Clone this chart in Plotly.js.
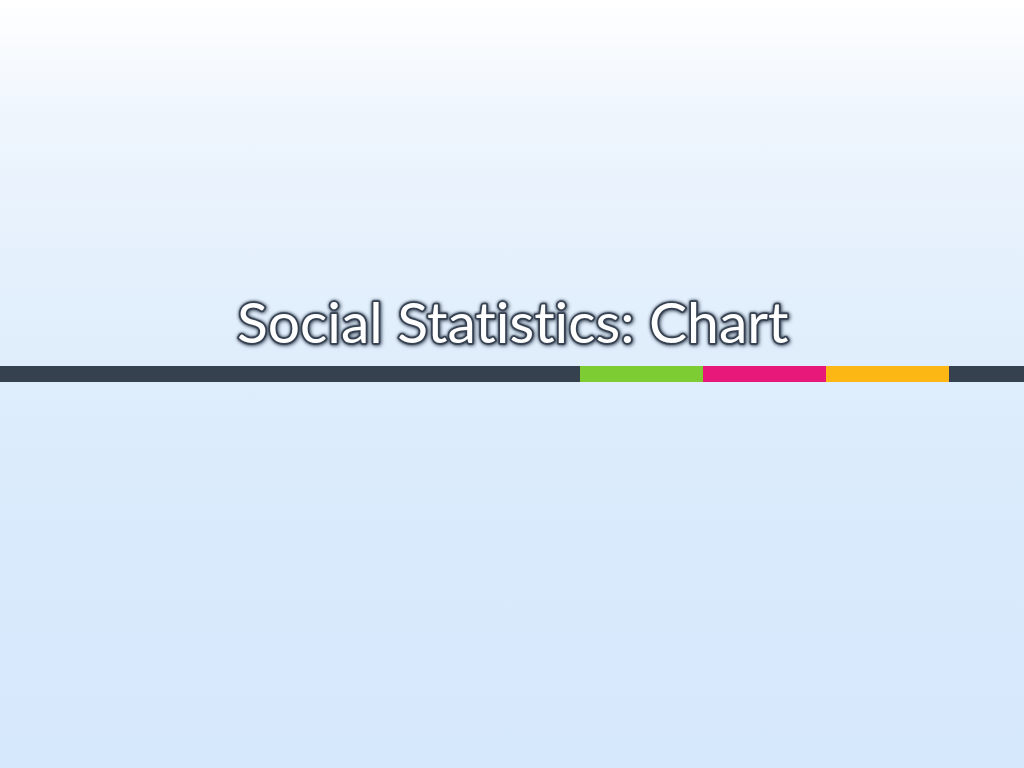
<!DOCTYPE html>
<html>
<head>
<meta charset="utf-8">
<script src="https://cdn.plot.ly/plotly-3.0.1.min.js"></script>
<style>
  html, body { margin: 0; padding: 0; }
  body {
    width: 1024px; height: 768px; overflow: hidden;
    background: linear-gradient(to bottom, #ffffff 0px, #eef5fd 120px, #e2effc 300px, #d9eafc 520px, #d6e8fc 768px);
  }
  #chart { width: 1024px; height: 768px; }
  /* Gill Sans style title: no ligatures, dark outline under white fill */
  .annotation-text {
    font-variant-ligatures: none !important;
    font-feature-settings: "liga" 0, "clig" 0 !important;
    stroke: #3b4757;
    stroke-width: 3.5px;
    stroke-linejoin: round;
    paint-order: stroke fill;
  }
</style>
</head>
<body>
<div id="chart"></div>
<script>
// segments of the divider strip, left to right
var segmentNames = [ 'base', 'green', 'pink', 'orange', 'end' ];
var segmentLengths = [ 580, 123, 123, 123, 75 ];
var segmentColors = [ '#36414f', '#7dcc34', '#e8177a', '#fdb714', '#36414f' ];

var titleText = 'Social Statistics: Chart';

var traces = [];
for ( let i = 0; i < segmentNames.length; ++i ) {
    traces.push({
        type: 'bar',
        orientation: 'h',
        name: segmentNames[ i ],
        x: [ segmentLengths[ i ] ],
        y: [ 374 ],
        width: 16,
        marker: { color: segmentColors[ i ], line: { width: 0 } },
        hoverinfo: 'skip'
    });
}

var layout = {
    width: 1024,
    height: 768,
    margin: { l: 0, r: 0, t: 0, b: 0 },
    paper_bgcolor: 'rgba(0,0,0,0)',
    plot_bgcolor: 'rgba(0,0,0,0)',
    barmode: 'stack',
    bargap: 0,
    showlegend: false,
    xaxis: { range: [ 0, 1024 ], visible: false, fixedrange: true },
    yaxis: { range: [ 768, 0 ], visible: false, fixedrange: true },
    annotations: [{
        text: titleText,
        xref: 'paper', yref: 'paper',
        x: 0.5, y: 1 - 321 / 768,
        xanchor: 'center', yanchor: 'middle',
        showarrow: false,
        font: {
            family: 'Lato, "Open Sans", sans-serif',
            size: 57,
            color: '#ffffff',
            shadow: '0 0 3px rgba(47,59,75,0.8), 1px 1px 4px rgba(47,59,75,0.6)'
        }
    }]
};

Plotly.newPlot( 'chart', traces, layout, { staticPlot: true, displayModeBar: false } );
</script>
</body>
</html>
